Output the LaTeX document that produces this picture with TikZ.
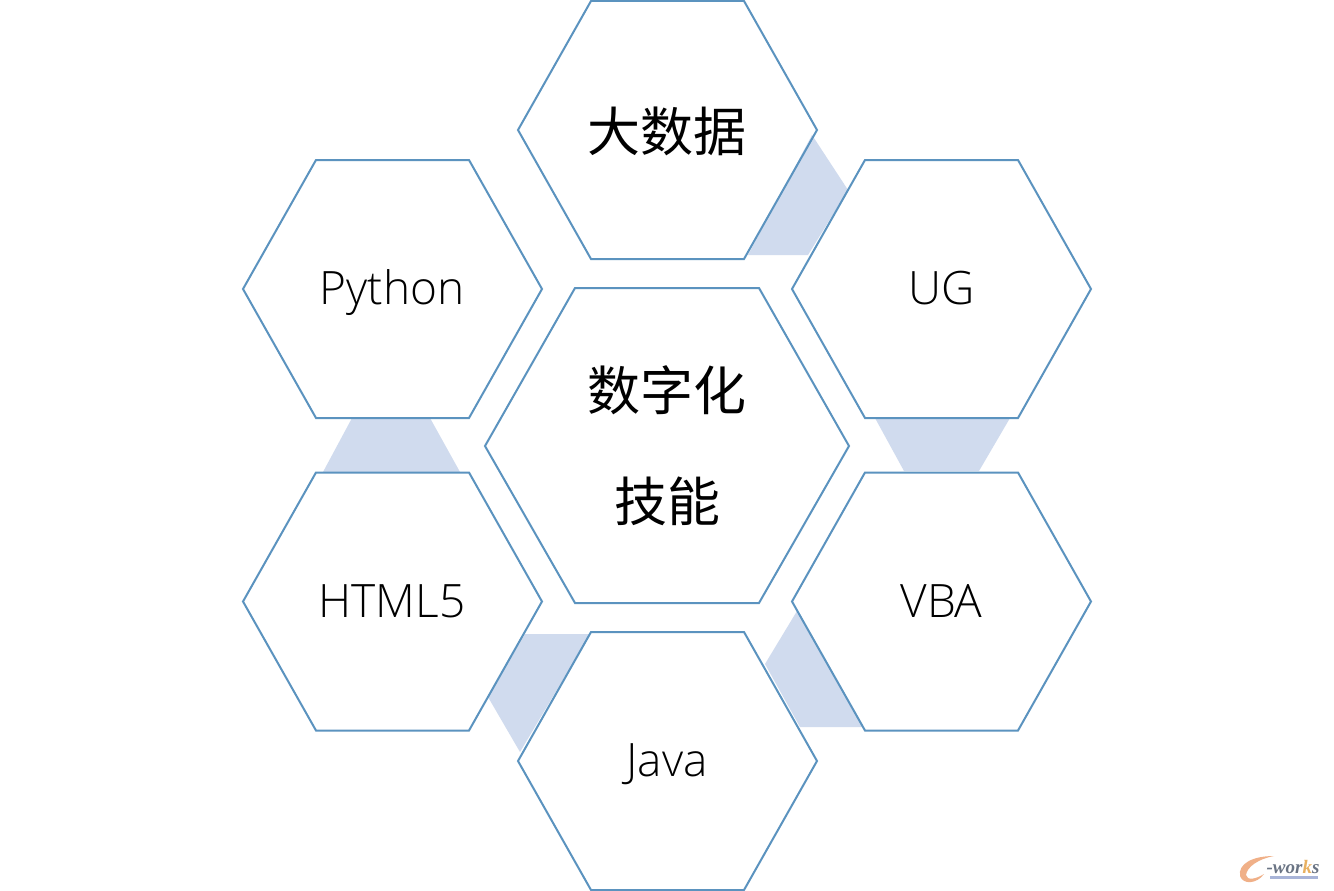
\documentclass[tikz,border=0pt]{standalone}
\usepackage{fontspec}
\setmainfont{Open Sans Light}[BoldFont=Open Sans]
\newfontfamily\cjk{Noto Sans CJK SC}
\newfontfamily\wm{Liberation Serif}
\tikzset{
  hexline/.style={draw=hexblue,line width=2pt,line join=miter,fill=none},
  band/.style={fill=bandblue,draw=none},
  latinlabel/.style={font=\fontsize{46}{46}\selectfont,text=black,inner sep=0pt,anchor=base},
  cjklabel/.style={font=\cjk\fontsize{53}{53}\selectfont,text=black,inner sep=0pt},
}
\definecolor{hexblue}{HTML}{5B93BF}
\definecolor{bandblue}{HTML}{D0DBEE}
\definecolor{wmorange}{HTML}{F0B088}
\definecolor{wmgray}{HTML}{6A7484}
\definecolor{wmgold}{HTML}{E8B060}
\definecolor{wmbar}{HTML}{A8B4D8}
\newcommand{\hexat}[2]{\draw[hexline] (#1-149.5,#2) -- (#1-76.5,#2-129) -- (#1+76.5,#2-129) -- (#1+149.5,#2) -- (#1+76.5,#2+129) -- (#1-76.5,#2+129) -- cycle;}
\begin{document}
\begin{tikzpicture}[x=1pt,y=-1pt]
\useasboundingbox (0,0) rectangle (1334,891);
\fill[white] (0,0) rectangle (1334,891);
% bands
\fill[band] (812,135) -- (848,190) -- (808,255) -- (748,255) -- cycle;
\fill[band] (875,418) -- (1010,418) -- (979,471) -- (904,471) -- cycle;
\fill[band] (352,418) -- (430,418) -- (460,472) -- (323,472) -- cycle;
\fill[band] (525,634) -- (590,634) -- (520,752) -- (488,697) -- cycle;
\fill[band] (797,611) -- (863,727) -- (800,727) -- (765,664) -- cycle;
% hexagons
\hexat{667.5}{130}
\hexat{941.5}{289}
\hexat{941.5}{601.5}
\hexat{667.5}{761}
\hexat{392.5}{289}
\hexat{392.5}{601.5}
\draw[hexline] (485,446) -- (575,288) -- (759,288) -- (849,446) -- (759,603) -- (575,603) -- cycle;
% labels
\node[cjklabel] (big) at (667,131) {大数据};
\node[cjklabel] (dig) at (667,390) {数字化};
\node[cjklabel] (ski) at (667,501) {技能};
\node[latinlabel] (ug) at (941.5,304) {UG};
\node[latinlabel] (vba) at (941.5,617) {VBA};
\node[latinlabel] (java) at (667,776) {Java};
\node[latinlabel] (py) at (392,304) {Python};
\node[latinlabel] (html) at (392,617) {HTML5};
% watermark
\fill[wmorange] (1240,876) .. controls (1238,864) and (1252,856) .. (1274,856) .. controls (1258,859) and (1247,867) .. (1246,875) .. controls (1247,881) and (1256,879) .. (1264,874) .. controls (1257,884) and (1243,885) .. (1240,876) -- cycle;
\fill[wmbar] (1270,876) rectangle (1318,878.5);
\node[font=\wm\bfseries\itshape\fontsize{19}{19}\selectfont,text=wmgray,inner sep=0pt,anchor=base] (wm) at (1293,873) {-wor{\color{wmgold}k}s};
\end{tikzpicture}
\end{document}
